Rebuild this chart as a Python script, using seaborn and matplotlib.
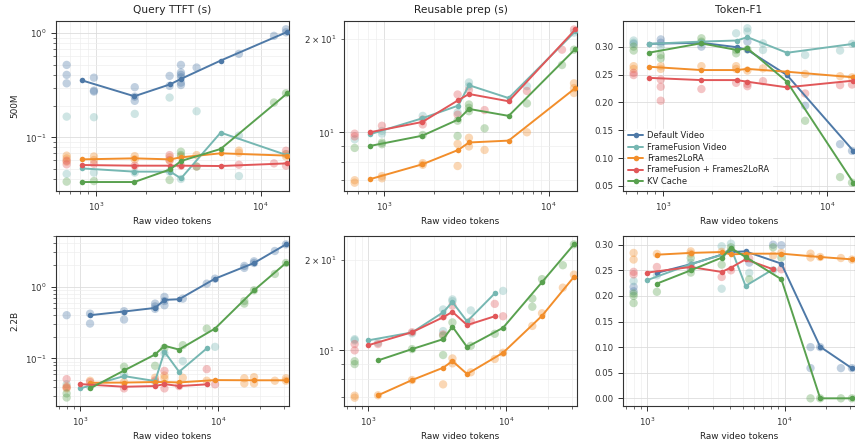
import numpy as np
import pandas as pd
import matplotlib
matplotlib.use("Agg")
import matplotlib.pyplot as plt
import seaborn as sns
from matplotlib.lines import Line2D

NAN = np.nan
METHODS = ["Default Video", "FrameFusion Video", "Frames2LoRA",
           "FrameFusion + Frames2LoRA", "KV Cache"]
COLORS = ["#4E79A7", "#76B7B2", "#F28E2B", "#E15759", "#59A14F"]
PAL = dict(zip(METHODS, COLORS))

COL_TITLES = ["Query TTFT (s)", "Reusable prep (s)", "Token-F1"]
ROW_LABELS = ["500M", "2.2B"]
XLABEL = "Raw video tokens"

# ---------------- top row (500M) ----------------
LX_TOP = [819, 1710, 2825, 3282, 5716, 14520]

TTFT_500M_LINES = {
    "Default Video": [0.353, 0.248, 0.323, 0.364, 0.546, 1.03],
    "FrameFusion Video": [0.0503, 0.0468, 0.0468, 0.0403, 0.111, 0.0671],
    "Frames2LoRA": [0.0614, 0.0628, 0.0614, 0.0642, 0.0702, 0.0667],
    "FrameFusion + Frames2LoRA": [0.0542, 0.0534, 0.0534, 0.0534, 0.053, 0.0562],
    "KV Cache": [0.0372, 0.0372, 0.0492, 0.0592, 0.0773, 0.265],
}
TTFT_500M_POINTS = {
    "Default Video": [(664, [0.496, 0.398, 0.330]), (972, [0.374, 0.281, 0.275]),
                      (1720, [0.303, 0.246, 0.224]), (2800, [0.389, 0.312]),
                      (3280, [0.496, 0.419, 0.398, 0.377, 0.335, 0.318]),
                      (4083, [0.468]), (7380, [0.633]), (12050, [0.943]),
                      (14250, [1.09, 1.02])],
    "FrameFusion Video": [(664, [0.158, 0.0445]), (972, [0.156, 0.0458]),
                          (1720, [0.168, 0.0458]), (2800, [0.241, 0.0468]),
                          (3280, [0.0398]), (4083, [0.178]), (7380, [0.0425, 0.104]),
                          (14250, [0.069])],
    "Frames2LoRA": [(664, [0.0667, 0.0628, 0.0584]), (972, [0.0655, 0.0605]),
                    (1720, [0.066, 0.0614]), (2800, [0.0642, 0.0597]), (3280, [0.0655]),
                    (4083, [0.0675]), (7380, [0.0745, 0.071]), (14250, [0.069, 0.0655])],
    "FrameFusion + Frames2LoRA": [(664, [0.0597, 0.055]), (972, [0.0556]), (1720, [0.0534]),
                                  (2800, [0.0675, 0.0605]), (3280, [0.0534]), (4083, [0.0525]),
                                  (7380, [0.0545]), (12050, [0.0562]), (14250, [0.0743, 0.0534])],
    "KV Cache": [(664, [0.0375]), (972, [0.0380]), (2800, [0.0389]), (3280, [0.0727, 0.0676]),
                 (4083, [0.0523]), (12050, [0.216]), (14250, [0.265])],
}

PREP_500M_LINES = {
    "FrameFusion Video": [9.85, 11.1, 12.2, 14.2, 12.9, 21.2],
    "Frames2LoRA": [7.05, 7.88, 8.77, 9.27, 9.40, 13.9],
    "FrameFusion + Frames2LoRA": [10.0, 10.8, 12.7, 13.3, 12.6, 21.5],
    "KV Cache": [9.03, 9.75, 11.0, 11.9, 11.3, 18.6],
}
PREP_500M_POINTS = {
    "FrameFusion Video": [(664, [9.49]), (972, [10.1, 9.9]), (1720, [11.3]), (2800, [11.6]),
                          (3280, [14.5, 14.1]), (7380, [14.1]), (14250, [21.0])],
    "Frames2LoRA": [(664, [7.0, 6.87]), (972, [7.22, 7.1]), (1720, [7.95, 7.85]),
                    (2800, [9.17, 7.78]), (3280, [9.6, 9.0]), (4083, [8.77]), (7380, [10.0]),
                    (14250, [14.4, 13.9, 13.4])],
    "FrameFusion + Frames2LoRA": [(664, [9.9, 9.7]), (972, [10.5]), (1720, [11.0, 10.6]),
                                  (2800, [13.25, 11.4]), (3280, [13.7]), (4083, [11.8]),
                                  (7380, [13.6]), (12050, [18.5]), (14250, [21.5])],
    "KV Cache": [(664, [8.9]), (972, [9.26, 9.15]), (1720, [9.8]), (2800, [9.73, 10.9]),
                 (3280, [12.3, 12.0, 11.7]), (4083, [10.3]), (7380, [12.4]), (12050, [16.5]),
                 (14250, [18.5])],
}

F1_500M_LINES = {
    "Default Video": [0.305, 0.307, 0.299, 0.294, 0.249, 0.113],
    "FrameFusion Video": [0.305, 0.309, 0.311, 0.317, 0.289, 0.305],
    "Frames2LoRA": [0.264, 0.258, 0.258, 0.260, 0.255, 0.245],
    "FrameFusion + Frames2LoRA": [0.244, 0.240, 0.240, 0.237, 0.227, 0.239],
    "KV Cache": [0.289, 0.306, 0.294, 0.297, 0.237, 0.056],
}
F1_500M_POINTS = {
    "Default Video": [(664, [0.305]), (972, [0.313, 0.307]), (1720, [0.300]), (3280, [0.309]),
                      (7380, [0.194]), (12050, [0.125]), (14250, [0.113])],
    "FrameFusion Video": [(664, [0.311, 0.307]), (972, [0.300]), (1720, [0.307]), (2800, [0.324]),
                          (3280, [0.333, 0.327]), (4083, [0.306, 0.294]), (7380, [0.285]),
                          (12050, [0.293]), (14250, [0.305])],
    "Frames2LoRA": [(664, [0.265, 0.260]), (972, [0.265, 0.260]), (1720, [0.265]),
                    (2800, [0.265, 0.260]), (3280, [0.257]), (4083, [0.261]), (7380, [0.251]),
                    (12050, [0.247]), (14250, [0.245])],
    "FrameFusion + Frames2LoRA": [(664, [0.253, 0.249]), (972, [0.241, 0.228, 0.203]),
                                  (1720, [0.224]), (2800, [0.235]), (3280, [0.233, 0.229]),
                                  (4083, [0.238]), (7380, [0.216]), (12050, [0.231]),
                                  (14250, [0.232])],
    "KV Cache": [(664, [0.300, 0.293]), (972, [0.285, 0.279]), (1720, [0.315, 0.309]),
                 (2800, [0.294, 0.288]), (3280, [0.295]), (7380, [0.167]), (12050, [0.066]),
                 (14250, [0.056])],
}

# ---------------- bottom row (2.2B) ----------------
LX_BOT = [1000, 1181, 2080, 3487, 4074, 5200, 8240, 9460, 18100, 30800]

TTFT_22B_LINES = {
    "Default Video": [NAN, 0.400, 0.450, 0.505, 0.653, 0.667, NAN, 1.29, 2.13, 3.87],
    "FrameFusion Video": [0.0383, NAN, 0.0568, 0.0485, 0.124, 0.0653, 0.138, NAN, NAN, NAN],
    "Frames2LoRA": [NAN, 0.0459, 0.0462, 0.0470, 0.0470, 0.0464, NAN, 0.050, 0.0497, 0.0497],
    "FrameFusion + Frames2LoRA": [0.044, NAN, 0.0404, 0.0413, 0.044, 0.0413, 0.0436, NAN, NAN, NAN],
    "KV Cache": [NAN, 0.0383, 0.068, 0.1137, 0.150, 0.133, NAN, 0.261, 0.889, 2.13],
}
TTFT_22B_POINTS = {
    "Default Video": [(800, [0.40]), (1181, [0.42, 0.306]), (2080, [0.455, 0.348]),
                      (3487, [0.58, 0.53, 0.49]), (4074, [0.72, 0.63, 0.55]), (5530, [0.68]),
                      (8240, [1.1]), (9460, [1.29]), (15400, [1.94, 1.82]),
                      (18100, [2.25, 2.13]), (25600, [3.13]), (30800, [3.87])],
    "FrameFusion Video": [(800, [0.0435]), (1181, [0.0405]), (2080, [0.059]), (3487, [0.0475]),
                          (4074, [0.118]), (5530, [0.092]), (9460, [0.145])],
    "Frames2LoRA": [(800, [0.0405, 0.0383]), (1181, [0.049]), (2080, [0.047]), (3487, [0.054]),
                    (4074, [0.058, 0.053]), (5530, [0.054]), (8240, [0.049]),
                    (15400, [0.053, 0.045]), (18100, [0.055, 0.045]), (25600, [0.049]),
                    (30800, [0.053, 0.049])],
    "FrameFusion + Frames2LoRA": [(800, [0.0516, 0.0396]), (1181, [0.047]), (2080, [0.0383]),
                                  (3487, [0.0495]), (4074, [0.0672, 0.0383]), (5200, [0.0413]),
                                  (8240, [0.071]), (9460, [0.0436])],
    "KV Cache": [(800, [0.0326, 0.0286]), (2080, [0.0767]), (3487, [0.079]), (4074, [0.14]),
                 (5530, [0.153]), (8240, [0.26]), (15400, [0.58, 0.63]), (18100, [0.89]),
                 (25600, [1.5]), (30800, [2.13])],
}

PREP_22B_LINES = {
    "FrameFusion Video": [10.8, NAN, 11.48, 13.4, 14.5, 12.5, 15.5, NAN, NAN, NAN],
    "Frames2LoRA": [NAN, 7.08, 7.96, 8.75, 9.21, 8.34, NAN, 9.82, 13.05, 17.6],
    "FrameFusion + Frames2LoRA": [10.4, NAN, 11.5, 12.9, 13.45, 12.15, 13.0, NAN, NAN, NAN],
    "KV Cache": [NAN, 9.26, 10.1, 10.9, 12.0, 10.26, NAN, 11.9, 16.9, 22.6],
}
PREP_22B_POINTS = {
    "FrameFusion Video": [(800, [10.9, 10.8]), (1181, [10.6]), (2080, [11.4]), (3487, [13.7, 11.6]),
                          (4074, [14.8, 14.6]), (5530, [13.6]), (9460, [15.8])],
    "Frames2LoRA": [(800, [7.06, 6.95]), (1181, [7.08]), (2080, [7.96]), (3487, [7.7]),
                    (4074, [9.4, 9.05]), (5530, [8.45]), (8240, [9.36]), (9460, [9.82]),
                    (15400, [12.07]), (18100, [13.3]), (25600, [16.2]), (30800, [17.9])],
    "FrameFusion + Frames2LoRA": [(800, [10.5, 10.0]), (1181, [10.5]), (2080, [11.5]),
                                  (3487, [13.0, 11.3]), (4074, [14.1]), (5530, [12.5]),
                                  (8240, [14.3]), (9460, [13.0])],
    "KV Cache": [(800, [9.2, 9.0]), (2080, [10.1]), (3487, [11.2, 9.65]), (4074, [12.4]),
                 (5530, [10.36]), (8240, [11.36]), (15400, [14.9, 13.99]), (18100, [17.3]),
                 (25600, [19.25]), (30800, [22.6])],
}

F1_22B_LINES = {
    "Default Video": [NAN, 0.245, 0.262, 0.2805, 0.2857, 0.287, NAN, 0.263, 0.1007, 0.0586],
    "FrameFusion Video": [0.2306, NAN, 0.262, 0.280, 0.2935, 0.2195, 0.252, NAN, NAN, NAN],
    "Frames2LoRA": [NAN, 0.2805, 0.284, 0.2857, 0.281, 0.2825, NAN, 0.2825, 0.276, 0.2714],
    "FrameFusion + Frames2LoRA": [0.2455, NAN, 0.2565, 0.2468, 0.2552, 0.2714, 0.252, NAN, NAN, NAN],
    "KV Cache": [NAN, 0.224, 0.250, 0.2747, 0.2935, 0.276, NAN, 0.2325, 0.0, 0.0],
}
F1_22B_POINTS = {
    "Default Video": [(800, [0.2176, 0.209]), (2080, [0.253]), (4074, [0.287]), (5530, [0.265]),
                      (8240, [0.300]), (9460, [0.299]), (15400, [0.100, 0.059]),
                      (18100, [0.100]), (25600, [0.059]), (30800, [0.059])],
    "FrameFusion Video": [(800, [0.229]), (1181, [0.240]), (2080, [0.265]), (3487, [0.297, 0.214]),
                          (4074, [0.302]), (5530, [0.245]), (8240, [0.25])],
    "Frames2LoRA": [(800, [0.284, 0.271]), (1181, [0.282]), (2080, [0.287, 0.2825]),
                    (3487, [0.286]), (4074, [0.288]), (8240, [0.279]), (9460, [0.284]),
                    (15400, [0.2825, 0.275]), (18100, [0.276]), (25600, [0.274]),
                    (30800, [0.271])],
    "FrameFusion + Frames2LoRA": [(800, [0.247, 0.242]), (1181, [0.2565]), (2080, [0.2565]),
                                  (3487, [0.237]), (4074, [0.250]), (5530, [0.273]),
                                  (9460, [0.252])],
    "KV Cache": [(800, [0.2046, 0.200, 0.186]), (1181, [0.208]), (2080, [0.274, 0.2455]),
                 (3487, [0.261]), (4074, [0.295]), (5530, [0.2325]), (8240, [0.295]),
                 (9460, [0.2747]), (15400, [0.0]), (18100, [0.0]), (25600, [0.0]),
                 (30800, [0.0])],
}


def points_df(points):
    rows = []
    for m in METHODS:
        for x, ys in points.get(m, []):
            for y in ys:
                rows.append((m, x, y))
    return pd.DataFrame(rows, columns=["method", "x", "y"])


def lines_df(lx, lines):
    rows = []
    for m in METHODS:
        if m not in lines:
            continue
        for x, y in zip(lx, lines[m]):
            if not np.isnan(y):
                rows.append((m, x, y))
    return pd.DataFrame(rows, columns=["method", "x", "y"])


sns.set_theme(style="ticks")
plt.rcParams.update({
    "font.family": ["DejaVu Sans"],
    "axes.edgecolor": "#333333",
    "axes.linewidth": 0.8,
    "xtick.color": "#333333",
    "ytick.color": "#333333",
    "axes.labelcolor": "#222222",
    "text.color": "#222222",
})

fig = plt.figure(figsize=(8.55, 4.46), dpi=100)
W, H = 855.0, 446.0
lefts = [56, 344, 623]
widths = [233, 233, 232]
tops = [21, 236]
ah = 170

panels = [
    [(TTFT_500M_POINTS, TTFT_500M_LINES, True), (PREP_500M_POINTS, PREP_500M_LINES, True),
     (F1_500M_POINTS, F1_500M_LINES, False)],
    [(TTFT_22B_POINTS, TTFT_22B_LINES, True), (PREP_22B_POINTS, PREP_22B_LINES, True),
     (F1_22B_POINTS, F1_22B_LINES, False)],
]
row_lx = [LX_TOP, LX_BOT]
row_xlim = [(572, 14860), (670, 32400)]
ylims = [[(0.0305, 1.31), (6.46, 22.9), (0.041, 0.346)],
         [(0.0218, 5.06), (6.52, 24.1), (-0.015, 0.317)]]

for r in range(2):
    for c in range(3):
        ax = fig.add_axes([lefts[c] / W, 1 - (tops[r] + ah) / H, widths[c] / W, ah / H])
        pts, lns, logy = panels[r][c]
        ax.set_xscale("log")
        if logy:
            ax.set_yscale("log")
        ax.set_axisbelow(True)
        ax.grid(which="major", color="#dddddd", linewidth=0.6)
        ax.grid(which="minor", color="#eeeeee", linewidth=0.5)
        pdf = points_df(pts)
        sns.scatterplot(data=pdf, x="x", y="y", hue="method", hue_order=METHODS,
                        palette=PAL, s=36, alpha=0.35, linewidth=0, legend=False,
                        ax=ax, zorder=2)
        ldf = lines_df(row_lx[r], lns)
        sns.lineplot(data=ldf, x="x", y="y", hue="method",
                     hue_order=[m for m in METHODS if m in lns],
                     palette=PAL, marker="o", markersize=4, markeredgewidth=0,
                     linewidth=1.4, estimator=None, sort=True, legend=False,
                     ax=ax, zorder=3)
        ax.set_xlim(*row_xlim[r])
        ax.set_ylim(*ylims[r][c])
        ax.set_xlabel(XLABEL, fontsize=6.4, labelpad=3)
        ax.set_ylabel(ROW_LABELS[r] if c == 0 else "", fontsize=6.4)
        if r == 0:
            ax.set_title(COL_TITLES[c], fontsize=7.7, pad=6)
        ax.tick_params(which="major", labelsize=6.2, length=3.5, width=0.7, direction="out")
        ax.tick_params(which="minor", labelsize=6.2, length=2, width=0.5, direction="out")
        for s in ax.spines.values():
            s.set_color("#333333")
            s.set_linewidth(0.8)
        if r == 0 and c == 2:
            handles = [Line2D([0], [0], color=PAL[m], marker="o", markersize=4,
                              markeredgewidth=0, linewidth=1.4, label=m) for m in METHODS]
            ax.legend(handles=handles, loc="lower left", fontsize=6, frameon=True,
                      facecolor="white", edgecolor="white", framealpha=0.8,
                      handlelength=1.8, handletextpad=0.5, labelspacing=0.3,
                      borderaxespad=0.3, borderpad=0.3)

fig.savefig("out.png", dpi=100)
